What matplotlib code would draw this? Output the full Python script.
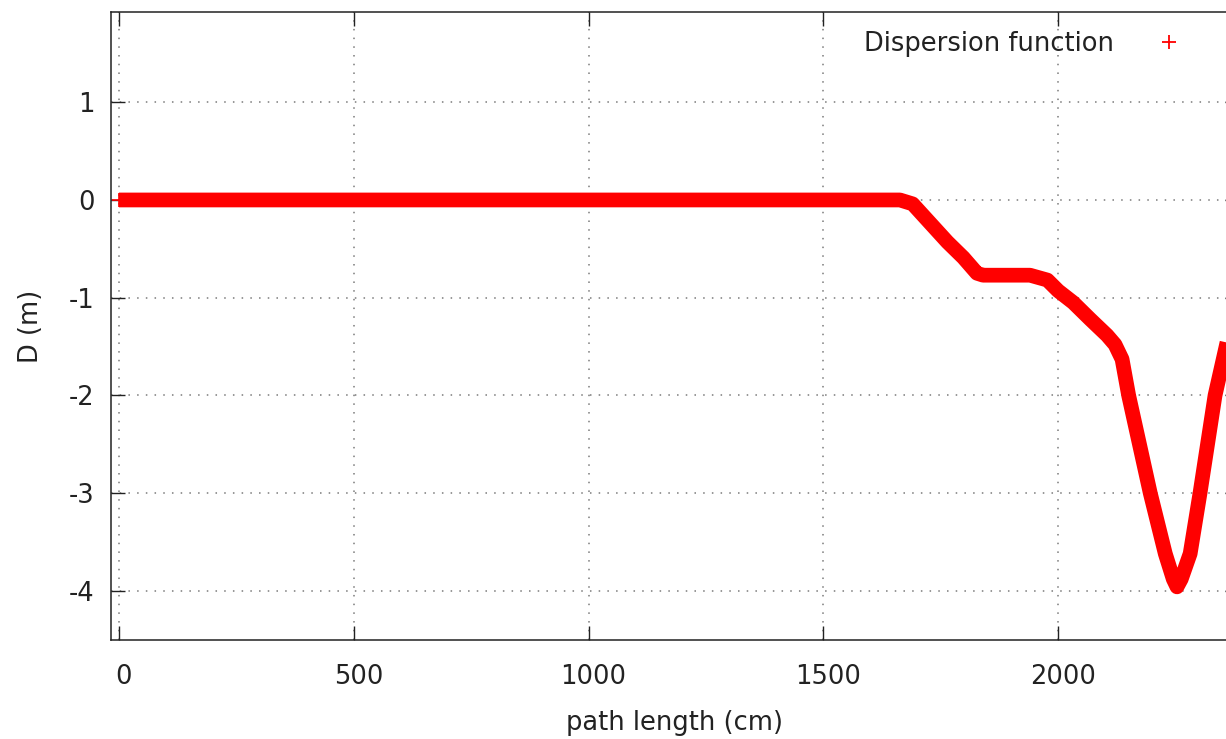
import numpy as np
import matplotlib.pyplot as plt
import matplotlib.transforms as mtransforms
from matplotlib.lines import Line2D

# dispersion function (path length in cm, D in m)
path_cm = [0, 1663, 1690, 1727, 1764, 1798, 1827, 1840, 1940, 1977, 2000,
           2032, 2068, 2104, 2121, 2136, 2150, 2196, 2228, 2245, 2253, 2262,
           2281, 2302, 2334, 2366]
disp_m = [0.0, 0.0, -0.04, -0.235, -0.43, -0.59, -0.75, -0.77, -0.77, -0.82,
          -0.93, -1.05, -1.22, -1.385, -1.48, -1.63, -2.0, -3.0, -3.62,
          -3.88, -3.96, -3.88, -3.62, -3.0, -2.0, -1.32]

xticks = [0, 500, 1000, 1500, 2000]
yticks = [-4, -3, -2, -1, 0, 1]

plt.rcParams['font.family'] = 'DejaVu Sans'
fs = 18.5
W, H = 1226, 739
txt = '#222222'

fig = plt.figure(figsize=(W / 100, H / 100), dpi=100)
ax = fig.add_axes([111 / W, 1 - 640 / H, (1239 - 111) / W, (640 - 12) / H])

# dense '+' points in the original make a solid band
ax.plot(path_cm, disp_m, color='red', lw=10.6, solid_capstyle='butt',
        solid_joinstyle='round', zorder=3)
ax.plot(path_cm[:-1], disp_m[:-1], '+', color='red', ms=10, mew=1.2, zorder=3)

ax.set_xlim(-17, 2385)
ax.set_ylim(-4.504, 1.924)
ax.set_xticks(xticks)
ax.set_yticks(yticks)
ax.set_xticklabels([str(v) for v in xticks])
ax.set_yticklabels([str(v) for v in yticks])

ax.grid(True, color='#7a7a7a', lw=1.1, linestyle=(0, (1, 4.7)))
ax.set_axisbelow(True)
for s in ax.spines.values():
    s.set_linewidth(1.1)
    s.set_color(txt)

ax.tick_params(direction='in', length=10, width=1.0, color=txt,
               labelsize=fs, labelcolor=txt, top=True, right=True)
ax.tick_params(axis='x', pad=17)
ax.tick_params(axis='y', pad=12)

# gnuplot puts the x labels a little to the right of the ticks
shift = mtransforms.ScaledTranslation(5 / 100, 0, fig.dpi_scale_trans)
for lab in ax.get_xticklabels():
    lab.set_transform(lab.get_transform() + shift)

ax.set_xlabel('path length (cm)', fontsize=fs, color=txt, labelpad=15)
ax.set_ylabel('D (m)', fontsize=fs, color=txt, labelpad=18)

h = Line2D([], [], color='red', marker='+', ls='none', ms=10, mew=1.3)
ax.legend([h], ['Dispersion function'], loc='upper right', markerfirst=False,
          frameon=False, fontsize=fs, handlelength=2, handletextpad=1.15,
          borderaxespad=0, bbox_to_anchor=(1205 / W, 1 - 21 / H),
          bbox_transform=fig.transFigure, labelcolor=txt)

fig.savefig('out.png', dpi=100)
